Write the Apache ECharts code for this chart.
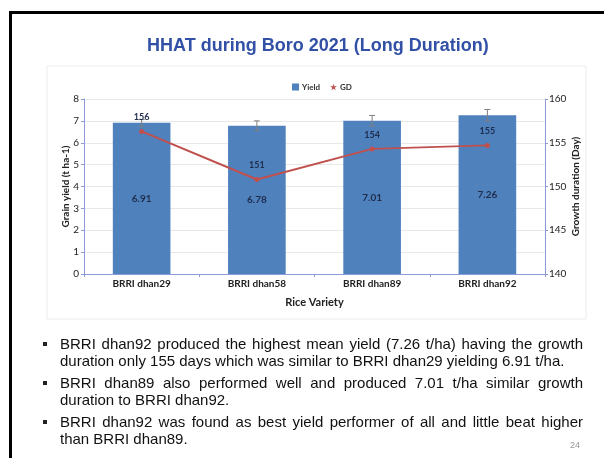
<!DOCTYPE html>
<html>
<head>
<meta charset="utf-8">
<script src="https://cdn.jsdelivr.net/npm/echarts@6/dist/echarts.min.js"></script>
<style>
  html, body { margin: 0; padding: 0; background: #fff; }
  #slide { position: relative; width: 604px; height: 458px; overflow: hidden; }
  #frame {
    position: absolute; left: 9px; top: 11px; width: 600px; height: 460px;
    border-top: 3px solid #000; border-left: 3px solid #000;
  }
  #chart { position: absolute; left: 0; top: 0; width: 604px; height: 458px; }
  #notes {
    position: absolute; left: 43px; top: 335px; width: 540px;
    font-family: "Liberation Sans", Arial, sans-serif; font-size: 15px; color: #111;
    line-height: 17px;
  }
  #notes ul { margin: 0; padding: 0; list-style: none; }
  #notes li { position: relative; padding-left: 17px; text-align: justify; margin-bottom: 5px; }
  #notes li::before {
    content: ""; position: absolute; left: 0; top: 7px; width: 4px; height: 4px; background: #222;
  }
  #page { position: absolute; left: 570px; top: 440px; font: 9px "Liberation Sans", Arial, sans-serif; color: #999; }
</style>
</head>
<body>
<div id="slide">
  <div id="frame"></div>
  <div id="chart"></div>
  <div id="notes">
    <ul>
      <li>BRRI dhan92 produced the highest mean yield (7.26 t/ha) having the growth duration only 155 days which was similar to BRRI dhan29 yielding 6.91 t/ha.</li>
      <li>BRRI dhan89 also performed well and produced 7.01 t/ha similar growth duration to BRRI dhan92.</li>
      <li>BRRI dhan92 was found as best yield performer of all and little beat higher than BRRI dhan89.</li>
    </ul>
  </div>
  <div id="page">24</div>
</div>
<script>
const varieties = ['BRRI dhan29', 'BRRI dhan58', 'BRRI dhan89', 'BRRI dhan92']
const yieldValues = [6.91, 6.78, 7.01, 7.26]
const yieldErrors = [0.15, 0.22, 0.24, 0.26]
const gdValues = [156.3, 150.8, 154.3, 154.7]

const chart = echarts.init(document.getElementById('chart'))

const axisBlue = '#8e9bd9'
const navy = '#1f2d4d'
const starIcon = 'path://M50,0 L61,35 L98,35 L68,57 L79,91 L50,70 L21,91 L32,57 L2,35 L39,35 Z'

chart.setOption({
  animation: false,
  textStyle: { fontFamily: 'Lato, "Open Sans", sans-serif' },
  title: {
    text: 'HHAT during Boro 2021 (Long Duration)',
    left: 142,
    top: 32,
    textStyle: { fontFamily: '"Liberation Sans", Arial, sans-serif', fontSize: 18, fontWeight: 'bold', color: '#3150a6' },
  },
  graphic: [
    {
      type: 'rect',
      shape: { x: 47, y: 66, width: 539, height: 253 },
      style: { fill: '#fff', stroke: '#ececec', lineWidth: 1 },
      z: -10,
    },
  ],
  legend: {
    left: 287,
    top: 78,
    itemWidth: 7,
    itemHeight: 7,
    itemGap: 10,
    textStyle: { fontSize: 8, fontWeight: 'bold', color: '#333', padding: [0, 0, 0, -2] },
    data: [
      { name: 'Yield', icon: 'rect' },
      { name: 'GD', icon: starIcon },
    ],
  },
  grid: { left: 84, right: 59, top: 99, bottom: 184 },
  xAxis: {
    type: 'category',
    data: varieties,
    name: 'Rice Variety',
    nameLocation: 'middle',
    nameGap: 23,
    nameTextStyle: { fontSize: 11, fontWeight: 'bold', color: '#222' },
    axisLine: { lineStyle: { color: axisBlue } },
    axisTick: { show: true, length: 3, lineStyle: { color: axisBlue } },
    axisLabel: { fontSize: 10, fontWeight: 'bold', color: '#222', margin: 5 },
  },
  yAxis: [
    {
      type: 'value',
      min: 0,
      max: 8,
      interval: 1,
      name: 'Grain yield (t ha-1)',
      nameLocation: 'middle',
      nameGap: 13,
      nameMoveOverlap: false,
      nameTextStyle: { fontSize: 10, fontWeight: 'bold', color: '#222' },
      axisLine: { show: true, lineStyle: { color: axisBlue } },
      axisTick: { show: true, length: 3, lineStyle: { color: axisBlue } },
      axisLabel: { fontSize: 10, color: '#222', margin: 5 },
      splitLine: { lineStyle: { color: '#e8e8e8' } },
    },
    {
      type: 'value',
      min: 140,
      max: 160,
      interval: 5,
      name: 'Growth duration (Day)',
      nameLocation: 'middle',
      nameGap: 26,
      nameMoveOverlap: false,
      nameTextStyle: { fontSize: 10, fontWeight: 'bold', color: '#222' },
      axisLine: { show: true, lineStyle: { color: axisBlue } },
      axisTick: { show: true, length: 3, lineStyle: { color: axisBlue } },
      axisLabel: { fontSize: 10, color: '#222', margin: 4 },
      splitLine: { show: false },
    },
  ],
  series: [
    {
      name: 'Yield',
      type: 'bar',
      data: yieldValues,
      barWidth: '50%',
      itemStyle: { color: '#4f81bd' },
      label: {
        show: true,
        position: 'inside',
        fontSize: 10,
        fontWeight: 'bold',
        color: navy,
        formatter: (p) => p.value.toFixed(2),
      },
    },
    {
      name: 'YieldError',
      type: 'custom',
      z: 5,
      data: yieldValues.map((v, i) => [i, v + yieldErrors[i], v - yieldErrors[i]]),
      encode: { x: 0, y: [1, 2] },
      renderItem(params, api) {
        const top = api.coord([api.value(0), api.value(1)])
        const bottom = api.coord([api.value(0), api.value(2)])
        const style = { stroke: '#7f7f7f', lineWidth: 1 }
        return {
          type: 'group',
          children: [
            { type: 'line', shape: { x1: top[0], y1: top[1], x2: bottom[0], y2: bottom[1] }, style },
            { type: 'line', shape: { x1: top[0] - 3, y1: top[1], x2: top[0] + 3, y2: top[1] }, style },
            { type: 'line', shape: { x1: bottom[0] - 3, y1: bottom[1], x2: bottom[0] + 3, y2: bottom[1] }, style },
          ],
        }
      },
    },
    {
      name: 'GD',
      type: 'line',
      yAxisIndex: 1,
      data: gdValues,
      z: 6,
      symbol: 'circle',
      symbolSize: 5,
      lineStyle: { width: 2, color: '#c0504d' },
      itemStyle: { color: '#c0504d' },
      label: {
        show: true,
        position: 'top',
        distance: 7,
        fontSize: 9,
        fontWeight: 'bold',
        color: navy,
        formatter: (p) => Math.round(p.value),
      },
    },
  ],
})
</script>
</body>
</html>
